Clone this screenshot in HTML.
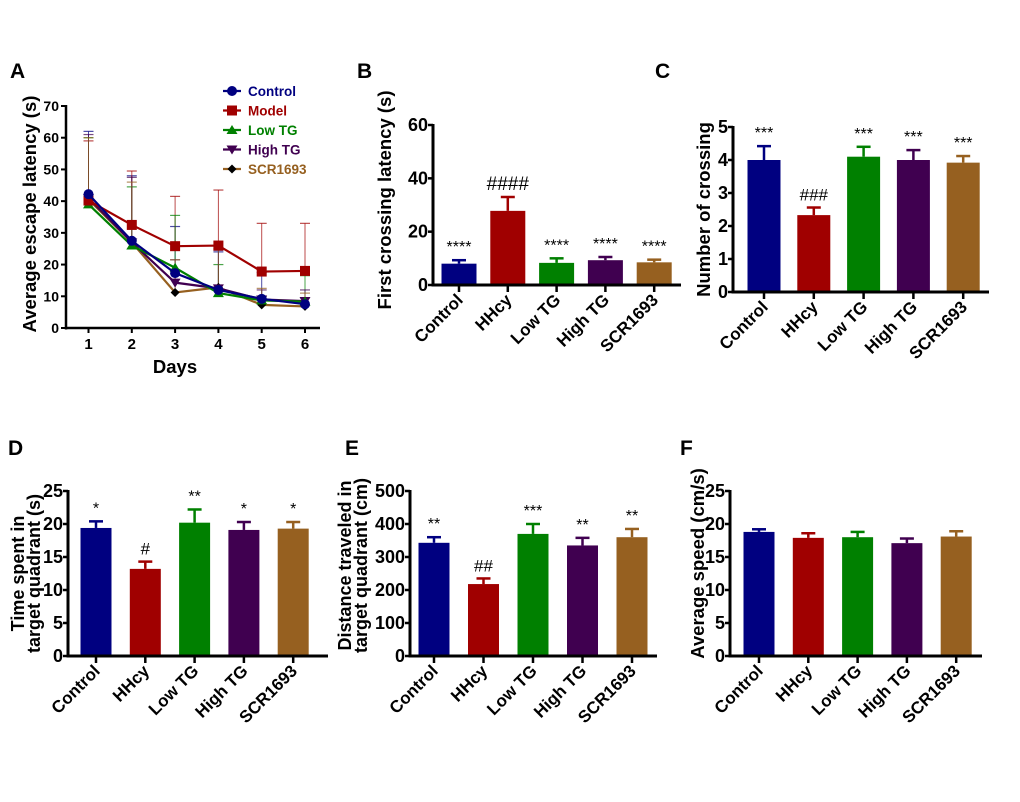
<!DOCTYPE html>
<html><head><meta charset="utf-8"><style>
body{margin:0;background:#fff;}
svg{display:block;font-family:"Liberation Sans",Arial,sans-serif;font-weight:bold;}
</style></head><body>
<svg id="fig" width="1020" height="802" viewBox="0 0 1020 802" xmlns="http://www.w3.org/2000/svg"></svg>
<script>
const groups = ["Control","HHcy","Low TG","High TG","SCR1693"];
const colors = ["#000080","#a00000","#008000","#400050","#966020"];
// Panel A
const days = [1,2,3,4,5,6];
const seriesNames = ["Control","Model","Low TG","High TG","SCR1693"];
const aControl = [42.2,27.5,17.3,12,9.2,7.5];
const aControlErr = [62,48,32,24,17.5,9.5];
const aModel = [40.2,32.5,25.8,26,17.8,18];
const aModelErr = [59,49.5,41.5,43.5,33,33];
const aLow = [39,26,19,11,8.7,8.3];
const aLowErr = [60,44.5,35.5,20,10,16.5];
const aHigh = [41,27,14.3,12.5,9,8.5];
const aHighErr = [61,47.5,21.5,24.5,12,12];
const aScr = [40.5,27,11.2,12.8,7.3,6.8];
const aScrErr = [60,46,21.5,25,12.5,11];
const aTicks = [0,10,20,30,40,50,60,70];
// Panel B
const bValues = [8,27.8,8.3,9.3,8.5];
const bErr = [9.3,33,10,10.5,9.5];
const bSig = ["****","####","****","****","****"];
const bTicks = [0,20,40,60];
// Panel C
const cValues = [4.0,2.33,4.1,4.0,3.92];
const cErr = [4.42,2.56,4.4,4.3,4.12];
const cSig = ["***","###","***","***","***"];
const cTicks = [0,1,2,3,4,5];
// Panel D
const dValues = [19.4,13.2,20.2,19.1,19.3];
const dErr = [20.4,14.3,22.2,20.3,20.3];
const dSig = ["*","#","**","*","*"];
const dTicks = [0,5,10,15,20,25];
// Panel E
const eValues = [343,218,370,335,360];
const eErr = [360,235,400,358,385];
const eSig = ["**","##","***","**","**"];
const eTicks = [0,100,200,300,400,500];
// Panel F
const fValues = [18.8,17.9,18.0,17.1,18.1];
const fErr = [19.2,18.6,18.8,17.8,18.9];
const fSig = ["","","","",""];
const fTicks = [0,5,10,15,20,25];

const NS="http://www.w3.org/2000/svg";
const svg=document.getElementById('fig');
function el(tag,attrs,parent,txt){const e=document.createElementNS(NS,tag);for(const k in attrs)e.setAttribute(k,attrs[k]);if(txt!==undefined)e.textContent=txt;(parent||svg).appendChild(e);return e;}

function letter(t,x,y){const e=el('text',{x:x,y:y,'font-size':21},svg,t);

}
letter('A',10,78);letter('B',357,78);letter('C',655,78);letter('D',8,455);letter('E',345,455);letter('F',680,455);

function barChart(o){
  const g=el('g',{});
  
  
  const tmax=o.ticks[o.ticks.length-1];
  const y=v=>o.y0-(v/tmax)*(o.y0-o.yTop);
  o.values.forEach((v,i)=>{
    const cx=o.x0+o.xs*i;
    const top=y(v), et=y(o.err[i]);
    const ln=el('line',{x1:cx,x2:cx,y1:top,y2:et,stroke:colors[i],'stroke-width':2.5},g);
    
    
    el('line',{x1:cx-7,x2:cx+7,y1:et,y2:et,stroke:colors[i],'stroke-width':2.5},g);
    const r=el('rect',{x:cx-o.bw/2,y:top,width:o.bw,height:o.y0-top,fill:colors[i]},g);
    
    
    if(o.sig[i]){const s=el('text',{x:cx,y:et-(o.sig[i].includes('#')?7:8),'text-anchor':'middle','font-size':o.sig[i].includes('#')?(o.hashSize||17):16,'font-weight':'normal',fill:'#000'},g,o.sig[i]);
      
      }
    el('line',{x1:cx,x2:cx,y1:o.y0,y2:o.y0+7,stroke:'#000','stroke-width':2.5},g);
    const lt=el('text',{transform:`translate(${cx+5},${o.y0+16}) rotate(-45)`,'text-anchor':'end','font-size':17},g,groups[i]);
    
    
  });
  el('line',{x1:o.ax,x2:o.ax,y1:o.yTop-1,y2:o.y0+1.5,stroke:'#000','stroke-width':3},g);
  el('line',{x1:o.ax-1.5,x2:o.xEnd,y1:o.y0,y2:o.y0,stroke:'#000','stroke-width':3},g);
  o.ticks.forEach(t=>{
    el('line',{x1:o.ax-5,x2:o.ax,y1:y(t),y2:y(t),stroke:'#000','stroke-width':2.5},g);
    const tt=el('text',{x:o.ax-5,y:y(t)+6,'text-anchor':'end','font-size':18},g,t);
    
    
  });
  const yt=el('text',{transform:`translate(${o.titleX},${(o.y0+o.yTop)/2+o.titleDy}) rotate(-90)`,'text-anchor':'middle','font-size':o.titleSize||18.5},g);
  
  
  o.title.forEach((t,k)=>{el('tspan',{x:0,dy:k?16:0},yt,t);});
}

barChart({name:'chart-b',ax:433,xEnd:681,y0:285,yTop:125,x0:459,xs:48.8,bw:35,values:bValues,err:bErr,sig:bSig,ticks:bTicks,title:['First crossing latency (s)'],titleX:391,titleDy:-5,hashSize:19});
barChart({name:'chart-c',ax:733,xEnd:989,y0:292,yTop:127,x0:764,xs:49.8,bw:33,values:cValues,err:cErr,sig:cSig,ticks:cTicks,title:['Number of crossing'],titleX:710,titleDy:0});
barChart({name:'chart-d',ax:68,xEnd:328,y0:656,yTop:491,x0:96,xs:49.3,bw:31,values:dValues,err:dErr,sig:dSig,ticks:dTicks,title:['Time spent in','target quadrant (s)'],titleX:24,titleDy:0,titleSize:18});
barChart({name:'chart-e',ax:410,xEnd:657,y0:656,yTop:491,x0:434,xs:49.5,bw:31,values:eValues,err:eErr,sig:eSig,ticks:eTicks,title:['Distance traveled in','target quadrant (cm)'],titleX:351,titleDy:-8,titleSize:18});
barChart({name:'chart-f',ax:730,xEnd:982,y0:656,yTop:491,x0:759,xs:49.3,bw:31,values:fValues,err:fErr,sig:fSig,ticks:fTicks,title:['Average speed (cm/s)'],titleX:704,titleDy:-10});

(function(){
  const g=el('g',{});
  
  
  const x0=66,y0=328,yTop=106;
  const xd=d=>88.5+(d-1)*(305-88.5)/5;
  const y=v=>y0-v/70*(y0-yTop);
  const all=[[aControl,aControlErr],[aModel,aModelErr],[aLow,aLowErr],[aHigh,aHighErr],[aScr,aScrErr]];
  const lineCol=["#000080","#a00000","#008000","#400050","#966020"];
  const markCol=["#000080","#a00000","#008000","#400050","#000"];
  all.forEach(([vals,errs],s)=>{
    vals.forEach((v,i)=>{const cx=xd(days[i]);
      el('line',{x1:cx,x2:cx,y1:y(v),y2:y(errs[i]),stroke:lineCol[s],'stroke-width':1,opacity:0.7},g);
      el('line',{x1:cx-5,x2:cx+5,y1:y(errs[i]),y2:y(errs[i]),stroke:lineCol[s],'stroke-width':1.2,opacity:0.7},g);});
  });
  function marker(s,cx,cy,parent){
    const c=markCol[s];let m;
    if(s===0)m=el('circle',{cx:cx,cy:cy,r:5,fill:c},parent);
    else if(s===1)m=el('rect',{x:cx-5,y:cy-5,width:10,height:10,fill:c},parent);
    else if(s===2)m=el('polygon',{points:`${cx},${cy-5} ${cx+5.5},${cy+4} ${cx-5.5},${cy+4}`,fill:c},parent);
    else if(s===3)m=el('polygon',{points:`${cx},${cy+5} ${cx+5.5},${cy-4} ${cx-5.5},${cy-4}`,fill:c},parent);
    else m=el('polygon',{points:`${cx},${cy-4.5} ${cx+4.5},${cy} ${cx},${cy+4.5} ${cx-4.5},${cy}`,fill:c},parent);
    return m;
  }
  [4,3,2,1,0].forEach(s=>{
    const [vals]=all[s];
    const p=el('polyline',{points:vals.map((v,i)=>xd(days[i])+','+y(v)).join(' '),fill:'none',stroke:lineCol[s],'stroke-width':2.2},g);
    
    
    vals.forEach((v,i)=>marker(s,xd(days[i]),y(v),g));
  });
  el('line',{x1:x0,x2:x0,y1:yTop-1,y2:y0+1.5,stroke:'#000','stroke-width':2.5},g);
  el('line',{x1:x0-1,x2:320,y1:y0,y2:y0,stroke:'#000','stroke-width':2.5},g);
  aTicks.forEach(t=>{el('line',{x1:x0-5,x2:x0,y1:y(t),y2:y(t),stroke:'#000','stroke-width':2},g);
    const tt=el('text',{x:x0-7,y:y(t)+5,'text-anchor':'end','font-size':14},g,t);
    
    });
  days.forEach(d=>{el('line',{x1:xd(d),x2:xd(d),y1:y0,y2:y0+5,stroke:'#000','stroke-width':2},g);
    const tt=el('text',{x:xd(d),y:y0+21,'text-anchor':'middle','font-size':15},g,d);
    
    });
  const xt=el('text',{x:175,y:373,'text-anchor':'middle','font-size':18.5},g,'Days');
  
  
  const yt=el('text',{transform:'translate(36,214) rotate(-90)','text-anchor':'middle','font-size':18.5},g,'Average escape latency (s)');
  
  
  const textCol=["#000080","#a00000","#008000","#400050","#966020"];
  seriesNames.forEach((n,s)=>{
    const ly=91+s*19.5;
    const lg=el('g',{},g);
    
    
    el('line',{x1:223,x2:241,y1:ly,y2:ly,stroke:lineCol[s],'stroke-width':2.2},lg);
    marker(s,232,ly,lg);
    el('text',{x:248,y:ly+5,'font-size':13.5,fill:textCol[s]},lg,n);
  });
})();
</script>
</body></html>
